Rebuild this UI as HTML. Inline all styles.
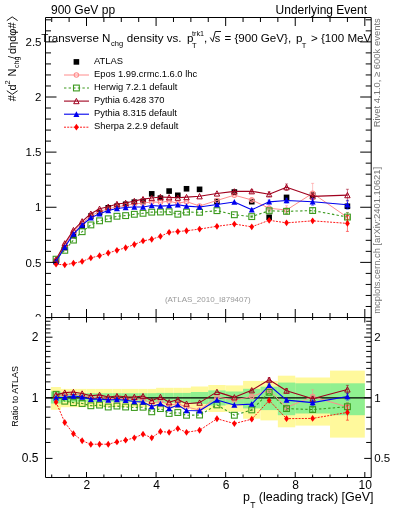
<!DOCTYPE html>
<html><head><meta charset="utf-8"><style>
html,body{margin:0;padding:0;background:#fff;width:393px;height:512px;overflow:hidden}
svg{display:block;will-change:transform;font-family:"Liberation Sans",sans-serif}
</style></head><body>
<svg width="393" height="512" viewBox="0 0 393 512">
<rect width="393" height="512" fill="#fff"/>
<defs><clipPath id="cm"><rect x="45.5" y="17.5" width="325.7" height="300.0"/></clipPath><clipPath id="cr"><rect x="45.5" y="317.5" width="325.7" height="160.0"/></clipPath></defs><g clip-path="url(#cr)"><rect x="50.90" y="387.0" width="10.00" height="22.80" fill="#fff99c"/><rect x="60.41" y="388.9" width="8.70" height="18.30" fill="#fff99c"/><rect x="69.11" y="388.9" width="8.70" height="18.30" fill="#fff99c"/><rect x="77.80" y="388.9" width="8.70" height="18.30" fill="#fff99c"/><rect x="86.50" y="388.9" width="8.70" height="18.30" fill="#fff99c"/><rect x="95.20" y="388.9" width="8.70" height="18.30" fill="#fff99c"/><rect x="103.89" y="388.9" width="8.70" height="18.30" fill="#fff99c"/><rect x="112.59" y="388.9" width="8.70" height="18.30" fill="#fff99c"/><rect x="121.29" y="388.9" width="8.70" height="18.30" fill="#fff99c"/><rect x="129.99" y="388.9" width="8.70" height="18.30" fill="#fff99c"/><rect x="138.69" y="388.9" width="8.70" height="18.30" fill="#fff99c"/><rect x="147.38" y="388.9" width="8.70" height="18.30" fill="#fff99c"/><rect x="156.08" y="387.8" width="8.70" height="20.70" fill="#fff99c"/><rect x="164.78" y="387.8" width="8.70" height="20.70" fill="#fff99c"/><rect x="173.47" y="387.8" width="8.70" height="20.70" fill="#fff99c"/><rect x="182.17" y="387.8" width="8.70" height="20.70" fill="#fff99c"/><rect x="190.87" y="386.5" width="17.39" height="23.50" fill="#fff99c"/><rect x="208.26" y="385" width="17.40" height="27.00" fill="#fff99c"/><rect x="225.66" y="385.4" width="17.40" height="26.40" fill="#fff99c"/><rect x="243.06" y="380.9" width="17.39" height="37.80" fill="#fff99c"/><rect x="260.45" y="380.9" width="17.40" height="39.50" fill="#fff99c"/><rect x="277.85" y="375.7" width="17.39" height="51.60" fill="#fff99c"/><rect x="295.24" y="377.5" width="34.79" height="48.10" fill="#fff99c"/><rect x="330.03" y="370.6" width="34.79" height="67.00" fill="#fff99c"/><rect x="50.90" y="391.5" width="10.00" height="12.00" fill="#90f090"/><rect x="60.41" y="393.2" width="8.70" height="8.60" fill="#90f090"/><rect x="69.11" y="393.2" width="8.70" height="8.60" fill="#90f090"/><rect x="77.80" y="393.2" width="8.70" height="8.60" fill="#90f090"/><rect x="86.50" y="393.2" width="8.70" height="8.60" fill="#90f090"/><rect x="95.20" y="393.2" width="8.70" height="8.60" fill="#90f090"/><rect x="103.89" y="393.2" width="8.70" height="8.60" fill="#90f090"/><rect x="112.59" y="393.2" width="8.70" height="8.60" fill="#90f090"/><rect x="121.29" y="393.2" width="8.70" height="8.60" fill="#90f090"/><rect x="129.99" y="393.2" width="8.70" height="8.60" fill="#90f090"/><rect x="138.69" y="393.2" width="8.70" height="8.60" fill="#90f090"/><rect x="147.38" y="393.2" width="8.70" height="8.60" fill="#90f090"/><rect x="156.08" y="392.9" width="8.70" height="9.90" fill="#90f090"/><rect x="164.78" y="392.9" width="8.70" height="9.90" fill="#90f090"/><rect x="173.47" y="392.9" width="8.70" height="9.90" fill="#90f090"/><rect x="182.17" y="392.9" width="8.70" height="9.90" fill="#90f090"/><rect x="190.87" y="392" width="17.39" height="12.00" fill="#90f090"/><rect x="208.26" y="390.4" width="17.40" height="15.10" fill="#90f090"/><rect x="225.66" y="391.5" width="17.40" height="13.00" fill="#90f090"/><rect x="243.06" y="388.8" width="17.39" height="19.60" fill="#90f090"/><rect x="260.45" y="386.7" width="17.40" height="23.40" fill="#90f090"/><rect x="277.85" y="382.6" width="17.39" height="32.60" fill="#90f090"/><rect x="295.24" y="383.3" width="34.79" height="30.20" fill="#90f090"/><rect x="330.03" y="383.3" width="34.79" height="31.90" fill="#90f090"/><path d="M45.5 397.80H371.2" stroke="#000" stroke-width="1.2"/></g><g clip-path="url(#cm)"><rect x="53.26" y="258.69" width="5.6" height="5.6" fill="#000"/><rect x="61.96" y="244.85" width="5.6" height="5.6" fill="#000"/><rect x="70.65" y="232.88" width="5.6" height="5.6" fill="#000"/><rect x="79.35" y="223.12" width="5.6" height="5.6" fill="#000"/><rect x="88.05" y="213.30" width="5.6" height="5.6" fill="#000"/><rect x="96.75" y="209.59" width="5.6" height="5.6" fill="#000"/><rect x="105.44" y="205.02" width="5.6" height="5.6" fill="#000"/><rect x="114.14" y="203.44" width="5.6" height="5.6" fill="#000"/><rect x="122.84" y="201.50" width="5.6" height="5.6" fill="#000"/><rect x="131.54" y="199.39" width="5.6" height="5.6" fill="#000"/><rect x="140.23" y="198.66" width="5.6" height="5.6" fill="#000"/><rect x="148.93" y="191.06" width="5.6" height="5.6" fill="#000"/><rect x="157.63" y="195.35" width="5.6" height="5.6" fill="#000"/><rect x="166.33" y="188.26" width="5.6" height="5.6" fill="#000"/><rect x="175.02" y="192.49" width="5.6" height="5.6" fill="#000"/><rect x="183.72" y="185.97" width="5.6" height="5.6" fill="#000"/><rect x="196.77" y="186.54" width="5.6" height="5.6" fill="#000"/><rect x="214.16" y="198.80" width="5.6" height="5.6" fill="#000"/><rect x="231.56" y="189.25" width="5.6" height="5.6" fill="#000"/><rect x="248.95" y="198.88" width="5.6" height="5.6" fill="#000"/><rect x="266.35" y="214.48" width="5.6" height="5.6" fill="#000"/><rect x="283.74" y="194.60" width="5.6" height="5.6" fill="#000"/><rect x="309.83" y="192.33" width="5.6" height="5.6" fill="#000"/><rect x="344.62" y="203.47" width="5.6" height="5.6" fill="#000"/></g><g clip-path="url(#cm)"><path d="M56.06 260.37 L64.76 245.20 L73.45 232.00 L82.15 223.17 L90.85 216.10 L99.55 211.34 L108.24 208.91 L116.94 206.79 L125.64 205.43 L134.34 203.92 L143.03 203.20 L151.73 201.90 L160.43 202.33 L169.13 201.17 L177.82 203.24 L186.52 201.64 L199.57 206.00 L216.96 200.44 L234.36 195.18 L251.75 199.94 L269.15 208.26 L286.54 210.01 L312.63 193.29 L347.43 217.39" fill="none" stroke="#ff8c8c" stroke-width="1.0" stroke-linejoin="round"/><path d="M251.75 197.59V202.29M250.25 197.59h3M250.25 202.29h3" stroke="#ff8c8c" stroke-width="0.9" stroke-opacity="0.6" fill="none"/><path d="M269.15 204.98V211.54M267.65 204.98h3M267.65 211.54h3" stroke="#ff8c8c" stroke-width="0.9" stroke-opacity="0.6" fill="none"/><path d="M286.54 205.71V214.31M285.04 205.71h3M285.04 214.31h3" stroke="#ff8c8c" stroke-width="0.9" stroke-opacity="0.6" fill="none"/><path d="M312.63 183.36V203.23M311.13 183.36h3M311.13 203.23h3" stroke="#ff8c8c" stroke-width="0.9" stroke-opacity="0.6" fill="none"/><path d="M347.43 212.39V222.40M345.93 212.39h3M345.93 222.40h3" stroke="#ff8c8c" stroke-width="0.9" stroke-opacity="0.6" fill="none"/><circle cx="56.06" cy="260.37" r="2.2" fill="none" stroke="#ff8c8c" stroke-width="1.1"/><circle cx="64.76" cy="245.20" r="2.2" fill="none" stroke="#ff8c8c" stroke-width="1.1"/><circle cx="73.45" cy="232.00" r="2.2" fill="none" stroke="#ff8c8c" stroke-width="1.1"/><circle cx="82.15" cy="223.17" r="2.2" fill="none" stroke="#ff8c8c" stroke-width="1.1"/><circle cx="90.85" cy="216.10" r="2.2" fill="none" stroke="#ff8c8c" stroke-width="1.1"/><circle cx="99.55" cy="211.34" r="2.2" fill="none" stroke="#ff8c8c" stroke-width="1.1"/><circle cx="108.24" cy="208.91" r="2.2" fill="none" stroke="#ff8c8c" stroke-width="1.1"/><circle cx="116.94" cy="206.79" r="2.2" fill="none" stroke="#ff8c8c" stroke-width="1.1"/><circle cx="125.64" cy="205.43" r="2.2" fill="none" stroke="#ff8c8c" stroke-width="1.1"/><circle cx="134.34" cy="203.92" r="2.2" fill="none" stroke="#ff8c8c" stroke-width="1.1"/><circle cx="143.03" cy="203.20" r="2.2" fill="none" stroke="#ff8c8c" stroke-width="1.1"/><circle cx="151.73" cy="201.90" r="2.2" fill="none" stroke="#ff8c8c" stroke-width="1.1"/><circle cx="160.43" cy="202.33" r="2.2" fill="none" stroke="#ff8c8c" stroke-width="1.1"/><circle cx="169.13" cy="201.17" r="2.2" fill="none" stroke="#ff8c8c" stroke-width="1.1"/><circle cx="177.82" cy="203.24" r="2.2" fill="none" stroke="#ff8c8c" stroke-width="1.1"/><circle cx="186.52" cy="201.64" r="2.2" fill="none" stroke="#ff8c8c" stroke-width="1.1"/><circle cx="199.57" cy="206.00" r="2.2" fill="none" stroke="#ff8c8c" stroke-width="1.1"/><circle cx="216.96" cy="200.44" r="2.2" fill="none" stroke="#ff8c8c" stroke-width="1.1"/><circle cx="234.36" cy="195.18" r="2.2" fill="none" stroke="#ff8c8c" stroke-width="1.1"/><circle cx="251.75" cy="199.94" r="2.2" fill="none" stroke="#ff8c8c" stroke-width="1.1"/><circle cx="269.15" cy="208.26" r="2.2" fill="none" stroke="#ff8c8c" stroke-width="1.1"/><circle cx="286.54" cy="210.01" r="2.2" fill="none" stroke="#ff8c8c" stroke-width="1.1"/><circle cx="312.63" cy="193.29" r="2.2" fill="none" stroke="#ff8c8c" stroke-width="1.1"/><circle cx="347.43" cy="217.39" r="2.2" fill="none" stroke="#ff8c8c" stroke-width="1.1"/><path d="M56.06 259.20 L64.76 250.30 L73.45 240.10 L82.15 231.69 L90.85 224.92 L99.55 220.80 L108.24 218.78 L116.94 216.25 L125.64 215.62 L134.34 214.29 L143.03 213.30 L151.73 212.16 L160.43 212.00 L169.13 211.79 L177.82 214.23 L186.52 212.07 L199.57 212.28 L216.96 210.64 L234.36 214.75 L251.75 216.62 L269.15 210.77 L286.54 211.33 L312.63 210.55 L347.43 217.06" fill="none" stroke="#3c9a1e" stroke-width="1.1" stroke-dasharray="2.4 2.2" stroke-linejoin="round"/><path d="M251.75 215.61V217.63M250.25 215.61h3M250.25 217.63h3" stroke="#3c9a1e" stroke-width="0.9" stroke-opacity="0.6" fill="none"/><path d="M269.15 209.17V212.37M267.65 209.17h3M267.65 212.37h3" stroke="#3c9a1e" stroke-width="0.9" stroke-opacity="0.6" fill="none"/><path d="M286.54 209.21V213.46M285.04 209.21h3M285.04 213.46h3" stroke="#3c9a1e" stroke-width="0.9" stroke-opacity="0.6" fill="none"/><path d="M312.63 207.87V213.22M311.13 207.87h3M311.13 213.22h3" stroke="#3c9a1e" stroke-width="0.9" stroke-opacity="0.6" fill="none"/><path d="M347.43 212.54V221.58M345.93 212.54h3M345.93 221.58h3" stroke="#3c9a1e" stroke-width="0.9" stroke-opacity="0.6" fill="none"/><rect x="53.16" y="256.30" width="5.8" height="5.8" fill="none" stroke="#3c9a1e" stroke-width="1.1"/><rect x="61.86" y="247.40" width="5.8" height="5.8" fill="none" stroke="#3c9a1e" stroke-width="1.1"/><rect x="70.55" y="237.20" width="5.8" height="5.8" fill="none" stroke="#3c9a1e" stroke-width="1.1"/><rect x="79.25" y="228.79" width="5.8" height="5.8" fill="none" stroke="#3c9a1e" stroke-width="1.1"/><rect x="87.95" y="222.02" width="5.8" height="5.8" fill="none" stroke="#3c9a1e" stroke-width="1.1"/><rect x="96.65" y="217.90" width="5.8" height="5.8" fill="none" stroke="#3c9a1e" stroke-width="1.1"/><rect x="105.34" y="215.88" width="5.8" height="5.8" fill="none" stroke="#3c9a1e" stroke-width="1.1"/><rect x="114.04" y="213.35" width="5.8" height="5.8" fill="none" stroke="#3c9a1e" stroke-width="1.1"/><rect x="122.74" y="212.72" width="5.8" height="5.8" fill="none" stroke="#3c9a1e" stroke-width="1.1"/><rect x="131.44" y="211.39" width="5.8" height="5.8" fill="none" stroke="#3c9a1e" stroke-width="1.1"/><rect x="140.13" y="210.40" width="5.8" height="5.8" fill="none" stroke="#3c9a1e" stroke-width="1.1"/><rect x="148.83" y="209.26" width="5.8" height="5.8" fill="none" stroke="#3c9a1e" stroke-width="1.1"/><rect x="157.53" y="209.10" width="5.8" height="5.8" fill="none" stroke="#3c9a1e" stroke-width="1.1"/><rect x="166.23" y="208.89" width="5.8" height="5.8" fill="none" stroke="#3c9a1e" stroke-width="1.1"/><rect x="174.92" y="211.33" width="5.8" height="5.8" fill="none" stroke="#3c9a1e" stroke-width="1.1"/><rect x="183.62" y="209.17" width="5.8" height="5.8" fill="none" stroke="#3c9a1e" stroke-width="1.1"/><rect x="196.67" y="209.38" width="5.8" height="5.8" fill="none" stroke="#3c9a1e" stroke-width="1.1"/><rect x="214.06" y="207.74" width="5.8" height="5.8" fill="none" stroke="#3c9a1e" stroke-width="1.1"/><rect x="231.46" y="211.85" width="5.8" height="5.8" fill="none" stroke="#3c9a1e" stroke-width="1.1"/><rect x="248.85" y="213.72" width="5.8" height="5.8" fill="none" stroke="#3c9a1e" stroke-width="1.1"/><rect x="266.25" y="207.87" width="5.8" height="5.8" fill="none" stroke="#3c9a1e" stroke-width="1.1"/><rect x="283.64" y="208.43" width="5.8" height="5.8" fill="none" stroke="#3c9a1e" stroke-width="1.1"/><rect x="309.74" y="207.65" width="5.8" height="5.8" fill="none" stroke="#3c9a1e" stroke-width="1.1"/><rect x="344.53" y="214.16" width="5.8" height="5.8" fill="none" stroke="#3c9a1e" stroke-width="1.1"/><path d="M56.06 259.59 L64.76 243.39 L73.45 230.11 L82.15 221.34 L90.85 213.77 L99.55 208.81 L108.24 206.72 L116.94 204.01 L125.64 202.94 L134.34 201.03 L143.03 199.14 L151.73 198.07 L160.43 196.96 L169.13 197.38 L177.82 197.74 L186.52 197.14 L199.57 196.26 L216.96 193.48 L234.36 191.42 L251.75 191.25 L269.15 194.23 L286.54 187.19 L312.63 196.35 L347.43 195.15" fill="none" stroke="#a0001e" stroke-width="1.1" stroke-linejoin="round"/><path d="M251.75 189.74V192.77M250.25 189.74h3M250.25 192.77h3" stroke="#a0001e" stroke-width="0.9" stroke-opacity="0.6" fill="none"/><path d="M269.15 191.77V196.70M267.65 191.77h3M267.65 196.70h3" stroke="#a0001e" stroke-width="0.9" stroke-opacity="0.6" fill="none"/><path d="M286.54 183.94V190.45M285.04 183.94h3M285.04 190.45h3" stroke="#a0001e" stroke-width="0.9" stroke-opacity="0.6" fill="none"/><path d="M312.63 192.96V199.75M311.13 192.96h3M311.13 199.75h3" stroke="#a0001e" stroke-width="0.9" stroke-opacity="0.6" fill="none"/><path d="M347.43 189.28V201.02M345.93 189.28h3M345.93 201.02h3" stroke="#a0001e" stroke-width="0.9" stroke-opacity="0.6" fill="none"/><path d="M56.06 256.89L58.76 262.19H53.36Z" fill="none" stroke="#a0001e" stroke-width="1.0" stroke-linejoin="miter"/><path d="M64.76 240.69L67.46 245.99H62.06Z" fill="none" stroke="#a0001e" stroke-width="1.0" stroke-linejoin="miter"/><path d="M73.45 227.41L76.15 232.71H70.75Z" fill="none" stroke="#a0001e" stroke-width="1.0" stroke-linejoin="miter"/><path d="M82.15 218.64L84.85 223.94H79.45Z" fill="none" stroke="#a0001e" stroke-width="1.0" stroke-linejoin="miter"/><path d="M90.85 211.07L93.55 216.37H88.15Z" fill="none" stroke="#a0001e" stroke-width="1.0" stroke-linejoin="miter"/><path d="M99.55 206.11L102.25 211.41H96.85Z" fill="none" stroke="#a0001e" stroke-width="1.0" stroke-linejoin="miter"/><path d="M108.24 204.02L110.94 209.32H105.54Z" fill="none" stroke="#a0001e" stroke-width="1.0" stroke-linejoin="miter"/><path d="M116.94 201.31L119.64 206.61H114.24Z" fill="none" stroke="#a0001e" stroke-width="1.0" stroke-linejoin="miter"/><path d="M125.64 200.24L128.34 205.54H122.94Z" fill="none" stroke="#a0001e" stroke-width="1.0" stroke-linejoin="miter"/><path d="M134.34 198.33L137.04 203.63H131.64Z" fill="none" stroke="#a0001e" stroke-width="1.0" stroke-linejoin="miter"/><path d="M143.03 196.44L145.73 201.74H140.33Z" fill="none" stroke="#a0001e" stroke-width="1.0" stroke-linejoin="miter"/><path d="M151.73 195.37L154.43 200.67H149.03Z" fill="none" stroke="#a0001e" stroke-width="1.0" stroke-linejoin="miter"/><path d="M160.43 194.26L163.13 199.56H157.73Z" fill="none" stroke="#a0001e" stroke-width="1.0" stroke-linejoin="miter"/><path d="M169.13 194.68L171.83 199.98H166.43Z" fill="none" stroke="#a0001e" stroke-width="1.0" stroke-linejoin="miter"/><path d="M177.82 195.04L180.52 200.34H175.12Z" fill="none" stroke="#a0001e" stroke-width="1.0" stroke-linejoin="miter"/><path d="M186.52 194.44L189.22 199.74H183.82Z" fill="none" stroke="#a0001e" stroke-width="1.0" stroke-linejoin="miter"/><path d="M199.57 193.56L202.27 198.86H196.87Z" fill="none" stroke="#a0001e" stroke-width="1.0" stroke-linejoin="miter"/><path d="M216.96 190.78L219.66 196.08H214.26Z" fill="none" stroke="#a0001e" stroke-width="1.0" stroke-linejoin="miter"/><path d="M234.36 188.72L237.06 194.02H231.66Z" fill="none" stroke="#a0001e" stroke-width="1.0" stroke-linejoin="miter"/><path d="M251.75 188.55L254.45 193.85H249.05Z" fill="none" stroke="#a0001e" stroke-width="1.0" stroke-linejoin="miter"/><path d="M269.15 191.53L271.85 196.83H266.45Z" fill="none" stroke="#a0001e" stroke-width="1.0" stroke-linejoin="miter"/><path d="M286.54 184.49L289.24 189.79H283.84Z" fill="none" stroke="#a0001e" stroke-width="1.0" stroke-linejoin="miter"/><path d="M312.63 193.65L315.33 198.95H309.94Z" fill="none" stroke="#a0001e" stroke-width="1.0" stroke-linejoin="miter"/><path d="M347.43 192.45L350.12 197.75H344.73Z" fill="none" stroke="#a0001e" stroke-width="1.0" stroke-linejoin="miter"/><path d="M56.06 261.49 L64.76 247.16 L73.45 234.04 L82.15 225.00 L90.85 217.72 L99.55 213.75 L108.24 210.56 L116.94 208.46 L125.64 207.47 L134.34 207.03 L143.03 207.03 L151.73 205.49 L160.43 206.15 L169.13 205.60 L177.82 204.82 L186.52 206.15 L199.57 207.03 L216.96 204.49 L234.36 201.96 L251.75 209.79 L269.15 201.85 L286.54 200.52 L312.63 201.74 L347.43 204.71" fill="none" stroke="#0000ee" stroke-width="1.1" stroke-linejoin="round"/><path d="M251.75 208.71V210.86M250.25 208.71h3M250.25 210.86h3" stroke="#0000ee" stroke-width="0.9" stroke-opacity="0.6" fill="none"/><path d="M269.15 200.11V203.58M267.65 200.11h3M267.65 203.58h3" stroke="#0000ee" stroke-width="0.9" stroke-opacity="0.6" fill="none"/><path d="M286.54 198.19V202.86M285.04 198.19h3M285.04 202.86h3" stroke="#0000ee" stroke-width="0.9" stroke-opacity="0.6" fill="none"/><path d="M312.63 198.26V205.21M311.13 198.26h3M311.13 205.21h3" stroke="#0000ee" stroke-width="0.9" stroke-opacity="0.6" fill="none"/><path d="M347.43 200.32V209.11M345.93 200.32h3M345.93 209.11h3" stroke="#0000ee" stroke-width="0.9" stroke-opacity="0.6" fill="none"/><path d="M56.06 258.49L59.06 264.19H53.06Z" fill="#0000ee"/><path d="M64.76 244.16L67.76 249.86H61.76Z" fill="#0000ee"/><path d="M73.45 231.04L76.45 236.74H70.45Z" fill="#0000ee"/><path d="M82.15 222.00L85.15 227.70H79.15Z" fill="#0000ee"/><path d="M90.85 214.72L93.85 220.42H87.85Z" fill="#0000ee"/><path d="M99.55 210.75L102.55 216.45H96.55Z" fill="#0000ee"/><path d="M108.24 207.56L111.24 213.26H105.24Z" fill="#0000ee"/><path d="M116.94 205.46L119.94 211.16H113.94Z" fill="#0000ee"/><path d="M125.64 204.47L128.64 210.17H122.64Z" fill="#0000ee"/><path d="M134.34 204.03L137.34 209.73H131.34Z" fill="#0000ee"/><path d="M143.03 204.03L146.03 209.73H140.03Z" fill="#0000ee"/><path d="M151.73 202.49L154.73 208.19H148.73Z" fill="#0000ee"/><path d="M160.43 203.15L163.43 208.85H157.43Z" fill="#0000ee"/><path d="M169.13 202.60L172.13 208.30H166.13Z" fill="#0000ee"/><path d="M177.82 201.82L180.82 207.52H174.82Z" fill="#0000ee"/><path d="M186.52 203.15L189.52 208.85H183.52Z" fill="#0000ee"/><path d="M199.57 204.03L202.57 209.73H196.57Z" fill="#0000ee"/><path d="M216.96 201.49L219.96 207.19H213.96Z" fill="#0000ee"/><path d="M234.36 198.96L237.36 204.66H231.36Z" fill="#0000ee"/><path d="M251.75 206.79L254.75 212.49H248.75Z" fill="#0000ee"/><path d="M269.15 198.85L272.15 204.55H266.15Z" fill="#0000ee"/><path d="M286.54 197.52L289.54 203.22H283.54Z" fill="#0000ee"/><path d="M312.63 198.74L315.63 204.44H309.63Z" fill="#0000ee"/><path d="M347.43 201.71L350.43 207.41H344.43Z" fill="#0000ee"/><path d="M56.06 264.18 L64.76 264.83 L73.45 263.25 L82.15 261.45 L90.85 257.88 L99.55 255.69 L108.24 253.01 L116.94 250.30 L125.64 247.77 L134.34 244.51 L143.03 240.91 L151.73 239.24 L160.43 236.34 L169.13 232.28 L177.82 231.59 L186.52 230.74 L199.57 229.07 L216.96 226.28 L234.36 224.04 L251.75 226.81 L269.15 220.29 L286.54 222.86 L312.63 220.83 L347.43 223.40" fill="none" stroke="#ff0000" stroke-width="0.9" stroke-dasharray="2 1.2" stroke-linejoin="round"/><path d="M347.43 215.40V231.40M345.93 215.40h3M345.93 231.40h3" stroke="#ff0000" stroke-width="0.9" stroke-opacity="0.6" fill="none"/><path d="M56.06 260.78L58.46 264.18L56.06 267.58L53.66 264.18Z" fill="#ff0000"/><path d="M64.76 261.43L67.16 264.83L64.76 268.23L62.36 264.83Z" fill="#ff0000"/><path d="M73.45 259.85L75.85 263.25L73.45 266.65L71.05 263.25Z" fill="#ff0000"/><path d="M82.15 258.05L84.55 261.45L82.15 264.85L79.75 261.45Z" fill="#ff0000"/><path d="M90.85 254.48L93.25 257.88L90.85 261.28L88.45 257.88Z" fill="#ff0000"/><path d="M99.55 252.29L101.95 255.69L99.55 259.09L97.15 255.69Z" fill="#ff0000"/><path d="M108.24 249.61L110.64 253.01L108.24 256.41L105.84 253.01Z" fill="#ff0000"/><path d="M116.94 246.90L119.34 250.30L116.94 253.70L114.54 250.30Z" fill="#ff0000"/><path d="M125.64 244.37L128.04 247.77L125.64 251.17L123.24 247.77Z" fill="#ff0000"/><path d="M134.34 241.11L136.74 244.51L134.34 247.91L131.94 244.51Z" fill="#ff0000"/><path d="M143.03 237.51L145.43 240.91L143.03 244.31L140.63 240.91Z" fill="#ff0000"/><path d="M151.73 235.84L154.13 239.24L151.73 242.64L149.33 239.24Z" fill="#ff0000"/><path d="M160.43 232.94L162.83 236.34L160.43 239.74L158.03 236.34Z" fill="#ff0000"/><path d="M169.13 228.88L171.53 232.28L169.13 235.68L166.73 232.28Z" fill="#ff0000"/><path d="M177.82 228.19L180.22 231.59L177.82 234.99L175.42 231.59Z" fill="#ff0000"/><path d="M186.52 227.34L188.92 230.74L186.52 234.14L184.12 230.74Z" fill="#ff0000"/><path d="M199.57 225.67L201.97 229.07L199.57 232.47L197.17 229.07Z" fill="#ff0000"/><path d="M216.96 222.88L219.36 226.28L216.96 229.68L214.56 226.28Z" fill="#ff0000"/><path d="M234.36 220.64L236.76 224.04L234.36 227.44L231.96 224.04Z" fill="#ff0000"/><path d="M251.75 223.41L254.15 226.81L251.75 230.21L249.35 226.81Z" fill="#ff0000"/><path d="M269.15 216.89L271.55 220.29L269.15 223.69L266.75 220.29Z" fill="#ff0000"/><path d="M286.54 219.46L288.94 222.86L286.54 226.26L284.14 222.86Z" fill="#ff0000"/><path d="M312.63 217.43L315.03 220.83L312.63 224.23L310.24 220.83Z" fill="#ff0000"/><path d="M347.43 220.00L349.82 223.40L347.43 226.80L345.03 223.40Z" fill="#ff0000"/></g><g clip-path="url(#cr)"><path d="M56.06 396.07 L64.76 394.79 L73.45 393.95 L82.15 395.22 L90.85 397.80 L99.55 396.93 L108.24 398.68 L116.94 398.24 L125.64 398.68 L134.34 399.12 L143.03 399.12 L151.73 403.68 L160.43 400.91 L169.13 405.09 L177.82 403.68 L186.52 407.01 L199.57 409.98 L216.96 396.93 L234.36 400.01 L251.75 396.50 L269.15 390.27 L286.54 407.50 L312.63 396.50 L347.43 407.01" fill="none" stroke="#ff8c8c" stroke-width="1.0" stroke-linejoin="round"/><path d="M251.75 394.77V398.26M250.25 394.77h3M250.25 398.26h3" stroke="#ff8c8c" stroke-width="0.9" stroke-opacity="0.6" fill="none"/><path d="M269.15 387.68V392.93M267.65 387.68h3M267.65 392.93h3" stroke="#ff8c8c" stroke-width="0.9" stroke-opacity="0.6" fill="none"/><path d="M286.54 404.07V411.07M285.04 404.07h3M285.04 411.07h3" stroke="#ff8c8c" stroke-width="0.9" stroke-opacity="0.6" fill="none"/><path d="M312.63 389.77V403.79M311.13 389.77h3M311.13 403.79h3" stroke="#ff8c8c" stroke-width="0.9" stroke-opacity="0.6" fill="none"/><path d="M347.43 402.75V411.50M345.93 402.75h3M345.93 411.50h3" stroke="#ff8c8c" stroke-width="0.9" stroke-opacity="0.6" fill="none"/><circle cx="56.06" cy="396.07" r="2.2" fill="none" stroke="#ff8c8c" stroke-width="1.1"/><circle cx="64.76" cy="394.79" r="2.2" fill="none" stroke="#ff8c8c" stroke-width="1.1"/><circle cx="73.45" cy="393.95" r="2.2" fill="none" stroke="#ff8c8c" stroke-width="1.1"/><circle cx="82.15" cy="395.22" r="2.2" fill="none" stroke="#ff8c8c" stroke-width="1.1"/><circle cx="90.85" cy="397.80" r="2.2" fill="none" stroke="#ff8c8c" stroke-width="1.1"/><circle cx="99.55" cy="396.93" r="2.2" fill="none" stroke="#ff8c8c" stroke-width="1.1"/><circle cx="108.24" cy="398.68" r="2.2" fill="none" stroke="#ff8c8c" stroke-width="1.1"/><circle cx="116.94" cy="398.24" r="2.2" fill="none" stroke="#ff8c8c" stroke-width="1.1"/><circle cx="125.64" cy="398.68" r="2.2" fill="none" stroke="#ff8c8c" stroke-width="1.1"/><circle cx="134.34" cy="399.12" r="2.2" fill="none" stroke="#ff8c8c" stroke-width="1.1"/><circle cx="143.03" cy="399.12" r="2.2" fill="none" stroke="#ff8c8c" stroke-width="1.1"/><circle cx="151.73" cy="403.68" r="2.2" fill="none" stroke="#ff8c8c" stroke-width="1.1"/><circle cx="160.43" cy="400.91" r="2.2" fill="none" stroke="#ff8c8c" stroke-width="1.1"/><circle cx="169.13" cy="405.09" r="2.2" fill="none" stroke="#ff8c8c" stroke-width="1.1"/><circle cx="177.82" cy="403.68" r="2.2" fill="none" stroke="#ff8c8c" stroke-width="1.1"/><circle cx="186.52" cy="407.01" r="2.2" fill="none" stroke="#ff8c8c" stroke-width="1.1"/><circle cx="199.57" cy="409.98" r="2.2" fill="none" stroke="#ff8c8c" stroke-width="1.1"/><circle cx="216.96" cy="396.93" r="2.2" fill="none" stroke="#ff8c8c" stroke-width="1.1"/><circle cx="234.36" cy="400.01" r="2.2" fill="none" stroke="#ff8c8c" stroke-width="1.1"/><circle cx="251.75" cy="396.50" r="2.2" fill="none" stroke="#ff8c8c" stroke-width="1.1"/><circle cx="269.15" cy="390.27" r="2.2" fill="none" stroke="#ff8c8c" stroke-width="1.1"/><circle cx="286.54" cy="407.50" r="2.2" fill="none" stroke="#ff8c8c" stroke-width="1.1"/><circle cx="312.63" cy="396.50" r="2.2" fill="none" stroke="#ff8c8c" stroke-width="1.1"/><circle cx="347.43" cy="407.01" r="2.2" fill="none" stroke="#ff8c8c" stroke-width="1.1"/><path d="M56.06 394.29 L64.76 401.19 L73.45 402.65 L82.15 403.49 L90.85 405.76 L99.55 405.09 L108.24 407.01 L116.94 406.05 L125.64 407.01 L134.34 407.50 L143.03 407.21 L151.73 411.80 L160.43 408.58 L169.13 413.46 L177.82 412.52 L186.52 415.26 L199.57 415.04 L216.96 404.90 L234.36 415.26 L251.75 409.88 L269.15 392.29 L286.54 408.58 L312.63 409.57 L347.43 406.72" fill="none" stroke="#3c9a1e" stroke-width="1.1" stroke-dasharray="2.4 2.2" stroke-linejoin="round"/><path d="M251.75 409.01V410.75M250.25 409.01h3M250.25 410.75h3" stroke="#3c9a1e" stroke-width="0.9" stroke-opacity="0.6" fill="none"/><path d="M269.15 390.99V393.62M267.65 390.99h3M267.65 393.62h3" stroke="#3c9a1e" stroke-width="0.9" stroke-opacity="0.6" fill="none"/><path d="M286.54 406.85V410.35M285.04 406.85h3M285.04 410.35h3" stroke="#3c9a1e" stroke-width="0.9" stroke-opacity="0.6" fill="none"/><path d="M312.63 407.42V411.79M311.13 407.42h3M311.13 411.79h3" stroke="#3c9a1e" stroke-width="0.9" stroke-opacity="0.6" fill="none"/><path d="M347.43 402.87V410.75M345.93 402.87h3M345.93 410.75h3" stroke="#3c9a1e" stroke-width="0.9" stroke-opacity="0.6" fill="none"/><rect x="53.16" y="391.39" width="5.8" height="5.8" fill="none" stroke="#3c9a1e" stroke-width="1.1"/><rect x="61.86" y="398.29" width="5.8" height="5.8" fill="none" stroke="#3c9a1e" stroke-width="1.1"/><rect x="70.55" y="399.75" width="5.8" height="5.8" fill="none" stroke="#3c9a1e" stroke-width="1.1"/><rect x="79.25" y="400.59" width="5.8" height="5.8" fill="none" stroke="#3c9a1e" stroke-width="1.1"/><rect x="87.95" y="402.86" width="5.8" height="5.8" fill="none" stroke="#3c9a1e" stroke-width="1.1"/><rect x="96.65" y="402.19" width="5.8" height="5.8" fill="none" stroke="#3c9a1e" stroke-width="1.1"/><rect x="105.34" y="404.11" width="5.8" height="5.8" fill="none" stroke="#3c9a1e" stroke-width="1.1"/><rect x="114.04" y="403.15" width="5.8" height="5.8" fill="none" stroke="#3c9a1e" stroke-width="1.1"/><rect x="122.74" y="404.11" width="5.8" height="5.8" fill="none" stroke="#3c9a1e" stroke-width="1.1"/><rect x="131.44" y="404.60" width="5.8" height="5.8" fill="none" stroke="#3c9a1e" stroke-width="1.1"/><rect x="140.13" y="404.31" width="5.8" height="5.8" fill="none" stroke="#3c9a1e" stroke-width="1.1"/><rect x="148.83" y="408.90" width="5.8" height="5.8" fill="none" stroke="#3c9a1e" stroke-width="1.1"/><rect x="157.53" y="405.68" width="5.8" height="5.8" fill="none" stroke="#3c9a1e" stroke-width="1.1"/><rect x="166.23" y="410.56" width="5.8" height="5.8" fill="none" stroke="#3c9a1e" stroke-width="1.1"/><rect x="174.92" y="409.62" width="5.8" height="5.8" fill="none" stroke="#3c9a1e" stroke-width="1.1"/><rect x="183.62" y="412.36" width="5.8" height="5.8" fill="none" stroke="#3c9a1e" stroke-width="1.1"/><rect x="196.67" y="412.14" width="5.8" height="5.8" fill="none" stroke="#3c9a1e" stroke-width="1.1"/><rect x="214.06" y="402.00" width="5.8" height="5.8" fill="none" stroke="#3c9a1e" stroke-width="1.1"/><rect x="231.46" y="412.36" width="5.8" height="5.8" fill="none" stroke="#3c9a1e" stroke-width="1.1"/><rect x="248.85" y="406.98" width="5.8" height="5.8" fill="none" stroke="#3c9a1e" stroke-width="1.1"/><rect x="266.25" y="389.39" width="5.8" height="5.8" fill="none" stroke="#3c9a1e" stroke-width="1.1"/><rect x="283.64" y="405.68" width="5.8" height="5.8" fill="none" stroke="#3c9a1e" stroke-width="1.1"/><rect x="309.74" y="406.67" width="5.8" height="5.8" fill="none" stroke="#3c9a1e" stroke-width="1.1"/><rect x="344.53" y="403.82" width="5.8" height="5.8" fill="none" stroke="#3c9a1e" stroke-width="1.1"/><path d="M56.06 394.88 L64.76 392.62 L73.45 392.05 L82.15 393.53 L90.85 395.81 L99.55 394.88 L108.24 396.93 L116.94 396.07 L125.64 396.76 L134.34 396.93 L143.03 396.07 L151.73 400.82 L160.43 396.93 L169.13 402.28 L177.82 399.57 L186.52 403.68 L199.57 402.65 L216.96 391.88 L234.36 397.36 L251.75 390.27 L269.15 379.70 L286.54 390.67 L312.63 398.68 L347.43 389.47" fill="none" stroke="#a0001e" stroke-width="1.1" stroke-linejoin="round"/><path d="M251.75 389.22V391.32M250.25 389.22h3M250.25 391.32h3" stroke="#a0001e" stroke-width="0.9" stroke-opacity="0.6" fill="none"/><path d="M269.15 377.97V381.47M267.65 377.97h3M267.65 381.47h3" stroke="#a0001e" stroke-width="0.9" stroke-opacity="0.6" fill="none"/><path d="M286.54 388.51V392.88M285.04 388.51h3M285.04 392.88h3" stroke="#a0001e" stroke-width="0.9" stroke-opacity="0.6" fill="none"/><path d="M312.63 396.26V401.16M311.13 396.26h3M311.13 401.16h3" stroke="#a0001e" stroke-width="0.9" stroke-opacity="0.6" fill="none"/><path d="M347.43 385.37V393.77M345.93 385.37h3M345.93 393.77h3" stroke="#a0001e" stroke-width="0.9" stroke-opacity="0.6" fill="none"/><path d="M56.06 392.18L58.76 397.48H53.36Z" fill="none" stroke="#a0001e" stroke-width="1.0" stroke-linejoin="miter"/><path d="M64.76 389.92L67.46 395.22H62.06Z" fill="none" stroke="#a0001e" stroke-width="1.0" stroke-linejoin="miter"/><path d="M73.45 389.35L76.15 394.65H70.75Z" fill="none" stroke="#a0001e" stroke-width="1.0" stroke-linejoin="miter"/><path d="M82.15 390.83L84.85 396.13H79.45Z" fill="none" stroke="#a0001e" stroke-width="1.0" stroke-linejoin="miter"/><path d="M90.85 393.11L93.55 398.41H88.15Z" fill="none" stroke="#a0001e" stroke-width="1.0" stroke-linejoin="miter"/><path d="M99.55 392.18L102.25 397.48H96.85Z" fill="none" stroke="#a0001e" stroke-width="1.0" stroke-linejoin="miter"/><path d="M108.24 394.23L110.94 399.53H105.54Z" fill="none" stroke="#a0001e" stroke-width="1.0" stroke-linejoin="miter"/><path d="M116.94 393.37L119.64 398.67H114.24Z" fill="none" stroke="#a0001e" stroke-width="1.0" stroke-linejoin="miter"/><path d="M125.64 394.06L128.34 399.36H122.94Z" fill="none" stroke="#a0001e" stroke-width="1.0" stroke-linejoin="miter"/><path d="M134.34 394.23L137.04 399.53H131.64Z" fill="none" stroke="#a0001e" stroke-width="1.0" stroke-linejoin="miter"/><path d="M143.03 393.37L145.73 398.67H140.33Z" fill="none" stroke="#a0001e" stroke-width="1.0" stroke-linejoin="miter"/><path d="M151.73 398.12L154.43 403.42H149.03Z" fill="none" stroke="#a0001e" stroke-width="1.0" stroke-linejoin="miter"/><path d="M160.43 394.23L163.13 399.53H157.73Z" fill="none" stroke="#a0001e" stroke-width="1.0" stroke-linejoin="miter"/><path d="M169.13 399.58L171.83 404.88H166.43Z" fill="none" stroke="#a0001e" stroke-width="1.0" stroke-linejoin="miter"/><path d="M177.82 396.87L180.52 402.17H175.12Z" fill="none" stroke="#a0001e" stroke-width="1.0" stroke-linejoin="miter"/><path d="M186.52 400.98L189.22 406.28H183.82Z" fill="none" stroke="#a0001e" stroke-width="1.0" stroke-linejoin="miter"/><path d="M199.57 399.95L202.27 405.25H196.87Z" fill="none" stroke="#a0001e" stroke-width="1.0" stroke-linejoin="miter"/><path d="M216.96 389.18L219.66 394.48H214.26Z" fill="none" stroke="#a0001e" stroke-width="1.0" stroke-linejoin="miter"/><path d="M234.36 394.66L237.06 399.96H231.66Z" fill="none" stroke="#a0001e" stroke-width="1.0" stroke-linejoin="miter"/><path d="M251.75 387.57L254.45 392.87H249.05Z" fill="none" stroke="#a0001e" stroke-width="1.0" stroke-linejoin="miter"/><path d="M269.15 377.00L271.85 382.30H266.45Z" fill="none" stroke="#a0001e" stroke-width="1.0" stroke-linejoin="miter"/><path d="M286.54 387.97L289.24 393.27H283.84Z" fill="none" stroke="#a0001e" stroke-width="1.0" stroke-linejoin="miter"/><path d="M312.63 395.98L315.33 401.28H309.94Z" fill="none" stroke="#a0001e" stroke-width="1.0" stroke-linejoin="miter"/><path d="M347.43 386.77L350.12 392.07H344.73Z" fill="none" stroke="#a0001e" stroke-width="1.0" stroke-linejoin="miter"/><path d="M56.06 397.80 L64.76 397.19 L73.45 396.07 L82.15 396.93 L90.85 399.21 L99.55 398.94 L108.24 400.01 L116.94 399.57 L125.64 400.28 L134.34 401.55 L143.03 402.10 L151.73 406.43 L160.43 403.86 L169.13 408.48 L177.82 404.90 L186.52 410.48 L199.57 410.78 L216.96 400.01 L234.36 405.00 L251.75 404.14 L269.15 385.28 L286.54 400.10 L312.63 402.65 L347.43 396.58" fill="none" stroke="#0000ee" stroke-width="1.1" stroke-linejoin="round"/><path d="M251.75 403.27V405.02M250.25 403.27h3M250.25 405.02h3" stroke="#0000ee" stroke-width="0.9" stroke-opacity="0.6" fill="none"/><path d="M269.15 383.98V386.60M267.65 383.98h3M267.65 386.60h3" stroke="#0000ee" stroke-width="0.9" stroke-opacity="0.6" fill="none"/><path d="M286.54 398.37V401.87M285.04 398.37h3M285.04 401.87h3" stroke="#0000ee" stroke-width="0.9" stroke-opacity="0.6" fill="none"/><path d="M312.63 400.07V405.32M311.13 400.07h3M311.13 405.32h3" stroke="#0000ee" stroke-width="0.9" stroke-opacity="0.6" fill="none"/><path d="M347.43 393.24V400.06M345.93 393.24h3M345.93 400.06h3" stroke="#0000ee" stroke-width="0.9" stroke-opacity="0.6" fill="none"/><path d="M56.06 394.80L59.06 400.50H53.06Z" fill="#0000ee"/><path d="M64.76 394.19L67.76 399.89H61.76Z" fill="#0000ee"/><path d="M73.45 393.07L76.45 398.77H70.45Z" fill="#0000ee"/><path d="M82.15 393.93L85.15 399.63H79.15Z" fill="#0000ee"/><path d="M90.85 396.21L93.85 401.91H87.85Z" fill="#0000ee"/><path d="M99.55 395.94L102.55 401.64H96.55Z" fill="#0000ee"/><path d="M108.24 397.01L111.24 402.71H105.24Z" fill="#0000ee"/><path d="M116.94 396.57L119.94 402.27H113.94Z" fill="#0000ee"/><path d="M125.64 397.28L128.64 402.98H122.64Z" fill="#0000ee"/><path d="M134.34 398.55L137.34 404.25H131.34Z" fill="#0000ee"/><path d="M143.03 399.10L146.03 404.80H140.03Z" fill="#0000ee"/><path d="M151.73 403.43L154.73 409.13H148.73Z" fill="#0000ee"/><path d="M160.43 400.86L163.43 406.56H157.43Z" fill="#0000ee"/><path d="M169.13 405.48L172.13 411.18H166.13Z" fill="#0000ee"/><path d="M177.82 401.90L180.82 407.60H174.82Z" fill="#0000ee"/><path d="M186.52 407.48L189.52 413.18H183.52Z" fill="#0000ee"/><path d="M199.57 407.78L202.57 413.48H196.57Z" fill="#0000ee"/><path d="M216.96 397.01L219.96 402.71H213.96Z" fill="#0000ee"/><path d="M234.36 402.00L237.36 407.70H231.36Z" fill="#0000ee"/><path d="M251.75 401.14L254.75 406.84H248.75Z" fill="#0000ee"/><path d="M269.15 382.28L272.15 387.98H266.15Z" fill="#0000ee"/><path d="M286.54 397.10L289.54 402.80H283.54Z" fill="#0000ee"/><path d="M312.63 399.65L315.63 405.35H309.63Z" fill="#0000ee"/><path d="M347.43 393.58L350.43 399.28H344.43Z" fill="#0000ee"/><path d="M56.06 402.10 L64.76 422.49 L73.45 433.73 L82.15 440.73 L90.85 444.23 L99.55 444.23 L108.24 444.23 L116.94 441.88 L125.64 440.16 L134.34 437.78 L143.03 434.13 L151.73 437.78 L160.43 431.52 L169.13 432.29 L177.82 428.61 L186.52 432.29 L199.57 430.24 L216.96 418.74 L234.36 423.54 L251.75 419.19 L269.15 400.46 L286.54 418.63 L312.63 418.41 L347.43 412.42" fill="none" stroke="#ff0000" stroke-width="0.9" stroke-dasharray="2 1.2" stroke-linejoin="round"/><path d="M347.43 405.29V420.19M345.93 405.29h3M345.93 420.19h3" stroke="#ff0000" stroke-width="0.9" stroke-opacity="0.6" fill="none"/><path d="M56.06 398.70L58.46 402.10L56.06 405.50L53.66 402.10Z" fill="#ff0000"/><path d="M64.76 419.09L67.16 422.49L64.76 425.89L62.36 422.49Z" fill="#ff0000"/><path d="M73.45 430.33L75.85 433.73L73.45 437.13L71.05 433.73Z" fill="#ff0000"/><path d="M82.15 437.33L84.55 440.73L82.15 444.13L79.75 440.73Z" fill="#ff0000"/><path d="M90.85 440.83L93.25 444.23L90.85 447.63L88.45 444.23Z" fill="#ff0000"/><path d="M99.55 440.83L101.95 444.23L99.55 447.63L97.15 444.23Z" fill="#ff0000"/><path d="M108.24 440.83L110.64 444.23L108.24 447.63L105.84 444.23Z" fill="#ff0000"/><path d="M116.94 438.48L119.34 441.88L116.94 445.28L114.54 441.88Z" fill="#ff0000"/><path d="M125.64 436.76L128.04 440.16L125.64 443.56L123.24 440.16Z" fill="#ff0000"/><path d="M134.34 434.38L136.74 437.78L134.34 441.18L131.94 437.78Z" fill="#ff0000"/><path d="M143.03 430.73L145.43 434.13L143.03 437.53L140.63 434.13Z" fill="#ff0000"/><path d="M151.73 434.38L154.13 437.78L151.73 441.18L149.33 437.78Z" fill="#ff0000"/><path d="M160.43 428.12L162.83 431.52L160.43 434.92L158.03 431.52Z" fill="#ff0000"/><path d="M169.13 428.89L171.53 432.29L169.13 435.69L166.73 432.29Z" fill="#ff0000"/><path d="M177.82 425.21L180.22 428.61L177.82 432.01L175.42 428.61Z" fill="#ff0000"/><path d="M186.52 428.89L188.92 432.29L186.52 435.69L184.12 432.29Z" fill="#ff0000"/><path d="M199.57 426.84L201.97 430.24L199.57 433.64L197.17 430.24Z" fill="#ff0000"/><path d="M216.96 415.34L219.36 418.74L216.96 422.14L214.56 418.74Z" fill="#ff0000"/><path d="M234.36 420.14L236.76 423.54L234.36 426.94L231.96 423.54Z" fill="#ff0000"/><path d="M251.75 415.79L254.15 419.19L251.75 422.59L249.35 419.19Z" fill="#ff0000"/><path d="M269.15 397.06L271.55 400.46L269.15 403.86L266.75 400.46Z" fill="#ff0000"/><path d="M286.54 415.23L288.94 418.63L286.54 422.03L284.14 418.63Z" fill="#ff0000"/><path d="M312.63 415.01L315.03 418.41L312.63 421.81L310.24 418.41Z" fill="#ff0000"/><path d="M347.43 409.02L349.82 412.42L347.43 415.82L345.03 412.42Z" fill="#ff0000"/></g><path d="M45.5 17.5H371.2V477.5H45.5Z" fill="none" stroke="#000" stroke-width="1"/><path d="M45.5 317.5H371.2" stroke="#000" stroke-width="1"/><path d="M51.71 17.5v4.5 M51.71 317.5v-4.5 M51.71 317.5v2.5 M51.71 477.5v-3.0 M69.11 17.5v4.5 M69.11 317.5v-4.5 M69.11 317.5v2.5 M69.11 477.5v-3.0 M86.50 17.5v8.5 M86.50 317.5v-8.5 M86.50 317.5v5.0 M86.50 477.5v-5.5 M103.89 17.5v4.5 M103.89 317.5v-4.5 M103.89 317.5v2.5 M103.89 477.5v-3.0 M121.29 17.5v4.5 M121.29 317.5v-4.5 M121.29 317.5v2.5 M121.29 477.5v-3.0 M138.69 17.5v4.5 M138.69 317.5v-4.5 M138.69 317.5v2.5 M138.69 477.5v-3.0 M156.08 17.5v8.5 M156.08 317.5v-8.5 M156.08 317.5v5.0 M156.08 477.5v-5.5 M173.47 17.5v4.5 M173.47 317.5v-4.5 M173.47 317.5v2.5 M173.47 477.5v-3.0 M190.87 17.5v4.5 M190.87 317.5v-4.5 M190.87 317.5v2.5 M190.87 477.5v-3.0 M208.26 17.5v4.5 M208.26 317.5v-4.5 M208.26 317.5v2.5 M208.26 477.5v-3.0 M225.66 17.5v8.5 M225.66 317.5v-8.5 M225.66 317.5v5.0 M225.66 477.5v-5.5 M243.06 17.5v4.5 M243.06 317.5v-4.5 M243.06 317.5v2.5 M243.06 477.5v-3.0 M260.45 17.5v4.5 M260.45 317.5v-4.5 M260.45 317.5v2.5 M260.45 477.5v-3.0 M277.85 17.5v4.5 M277.85 317.5v-4.5 M277.85 317.5v2.5 M277.85 477.5v-3.0 M295.24 17.5v8.5 M295.24 317.5v-8.5 M295.24 317.5v5.0 M295.24 477.5v-5.5 M312.63 17.5v4.5 M312.63 317.5v-4.5 M312.63 317.5v2.5 M312.63 477.5v-3.0 M330.03 17.5v4.5 M330.03 317.5v-4.5 M330.03 317.5v2.5 M330.03 477.5v-3.0 M347.43 17.5v4.5 M347.43 317.5v-4.5 M347.43 317.5v2.5 M347.43 477.5v-3.0 M364.82 17.5v8.5 M364.82 317.5v-8.5 M364.82 317.5v5.0 M364.82 477.5v-5.5 M45.5 317.50h11 M371.2 317.50h-11 M45.5 306.48h5.5 M371.2 306.48h-5.5 M45.5 295.45h5.5 M371.2 295.45h-5.5 M45.5 284.43h5.5 M371.2 284.43h-5.5 M45.5 273.40h5.5 M371.2 273.40h-5.5 M45.5 262.38h11 M371.2 262.38h-11 M45.5 251.35h5.5 M371.2 251.35h-5.5 M45.5 240.32h5.5 M371.2 240.32h-5.5 M45.5 229.30h5.5 M371.2 229.30h-5.5 M45.5 218.27h5.5 M371.2 218.27h-5.5 M45.5 207.25h11 M371.2 207.25h-11 M45.5 196.22h5.5 M371.2 196.22h-5.5 M45.5 185.20h5.5 M371.2 185.20h-5.5 M45.5 174.17h5.5 M371.2 174.17h-5.5 M45.5 163.15h5.5 M371.2 163.15h-5.5 M45.5 152.12h11 M371.2 152.12h-11 M45.5 141.10h5.5 M371.2 141.10h-5.5 M45.5 130.08h5.5 M371.2 130.08h-5.5 M45.5 119.05h5.5 M371.2 119.05h-5.5 M45.5 108.03h5.5 M371.2 108.03h-5.5 M45.5 97.00h11 M371.2 97.00h-11 M45.5 85.97h5.5 M371.2 85.97h-5.5 M45.5 74.95h5.5 M371.2 74.95h-5.5 M45.5 63.93h5.5 M371.2 63.93h-5.5 M45.5 52.90h5.5 M371.2 52.90h-5.5 M45.5 41.88h11 M371.2 41.88h-11 M45.5 30.85h5.5 M371.2 30.85h-5.5 M45.5 19.82h5.5 M371.2 19.82h-5.5 M45.5 458.40h7 M371.2 458.40h-7 M45.5 442.46h5 M371.2 442.46h-5 M45.5 428.98h5 M371.2 428.98h-5 M45.5 417.31h5 M371.2 417.31h-5 M45.5 407.01h5 M371.2 407.01h-5 M45.5 397.80h7 M371.2 397.80h-7 M45.5 389.47h5 M371.2 389.47h-5 M45.5 381.86h5 M371.2 381.86h-5 M45.5 374.86h5 M371.2 374.86h-5 M45.5 368.38h5 M371.2 368.38h-5 M45.5 362.35h5 M371.2 362.35h-5 M45.5 356.71h5 M371.2 356.71h-5 M45.5 351.41h5 M371.2 351.41h-5 M45.5 346.41h5 M371.2 346.41h-5 M45.5 341.68h5 M371.2 341.68h-5 M45.5 337.20h7 M371.2 337.20h-7 M45.5 332.93h5 M371.2 332.93h-5 M45.5 328.87h5 M371.2 328.87h-5 M45.5 324.98h5 M371.2 324.98h-5 M45.5 321.26h5 M371.2 321.26h-5 M45.5 317.69h5 M371.2 317.69h-5" stroke="#000" stroke-width="1" fill="none"/><text x="51" y="14.0" font-size="12" font-family="'Liberation Sans', sans-serif">900 GeV pp</text><text x="367" y="14.0" font-size="12" text-anchor="end" font-family="'Liberation Sans', sans-serif">Underlying Event</text><text x="41.5" y="266.57" font-size="11.5" text-anchor="end" font-family="'Liberation Sans', sans-serif">0.5</text><text x="41.5" y="211.45" font-size="11.5" text-anchor="end" font-family="'Liberation Sans', sans-serif">1</text><text x="41.5" y="156.32" font-size="11.5" text-anchor="end" font-family="'Liberation Sans', sans-serif">1.5</text><text x="41.5" y="101.20" font-size="11.5" text-anchor="end" font-family="'Liberation Sans', sans-serif">2</text><text x="41.5" y="46.08" font-size="11.5" text-anchor="end" font-family="'Liberation Sans', sans-serif">2.5</text><defs><clipPath id="c0"><rect x="0" y="0" width="45" height="316.8"/></clipPath></defs><text clip-path="url(#c0)" x="41.5" y="321.70" font-size="11.5" text-anchor="end" font-family="'Liberation Sans', sans-serif">0</text><text x="38.5" y="462.20" font-size="12" text-anchor="end" font-family="'Liberation Sans', sans-serif">0.5</text><text x="374.2" y="462.20" font-size="11.5" font-family="'Liberation Sans', sans-serif">0.5</text><text x="38.5" y="401.60" font-size="12" text-anchor="end" font-family="'Liberation Sans', sans-serif">1</text><text x="374.2" y="401.60" font-size="11.5" font-family="'Liberation Sans', sans-serif">1</text><text x="38.5" y="341.00" font-size="12" text-anchor="end" font-family="'Liberation Sans', sans-serif">2</text><text x="374.2" y="341.00" font-size="11.5" font-family="'Liberation Sans', sans-serif">2</text><text x="86.90" y="489.2" font-size="12" text-anchor="middle" font-family="'Liberation Sans', sans-serif">2</text><text x="156.48" y="489.2" font-size="12" text-anchor="middle" font-family="'Liberation Sans', sans-serif">4</text><text x="226.06" y="489.2" font-size="12" text-anchor="middle" font-family="'Liberation Sans', sans-serif">6</text><text x="295.64" y="489.2" font-size="12" text-anchor="middle" font-family="'Liberation Sans', sans-serif">8</text><text x="365.22" y="489.2" font-size="12" text-anchor="middle" font-family="'Liberation Sans', sans-serif">10</text><defs><clipPath id="ct"><rect x="0" y="0" width="371" height="60"/></clipPath></defs><g clip-path="url(#ct)" font-size="11.6" font-family="'Liberation Sans', sans-serif"><text x="41.3" y="41.7">Transverse N</text><text x="111" y="45.5" font-size="7.5">chg</text><text x="126.8" y="41.7">density vs.</text><text x="187" y="41.7">p</text><text x="192" y="48.4" font-size="7.5">T</text><text x="192" y="36.1" font-size="7.2">trk1</text><text x="204.1" y="41.7">,</text><path d="M210.2 37.5L212.7 41.7L215.3 31.5H221" fill="none" stroke="#000" stroke-width="0.9"/><text x="214.8" y="41.7" font-size="11">s</text><text x="224.4" y="41.7">= {900 GeV},</text><text x="296" y="41.7">p</text><text x="301.8" y="47.8" font-size="7.5">T</text><text x="311" y="41.7">&gt; {100 MeV}</text></g><rect x="73.60" y="59.10" width="5.6" height="5.6" fill="#000"/><path d="M64 75.0H89" stroke="#ff8c8c" stroke-width="1.0" fill="none"/><circle cx="76.40" cy="75.00" r="2.2" fill="none" stroke="#ff8c8c" stroke-width="1.1"/><path d="M64 88.0H89" stroke="#3c9a1e" stroke-width="1.1" stroke-dasharray="2.4 2.2" fill="none"/><rect x="73.50" y="85.10" width="5.8" height="5.8" fill="none" stroke="#3c9a1e" stroke-width="1.1"/><path d="M64 101.1H89" stroke="#a0001e" stroke-width="1.1" fill="none"/><path d="M76.40 98.40L79.10 103.70H73.70Z" fill="none" stroke="#a0001e" stroke-width="1.0" stroke-linejoin="miter"/><path d="M64 114.2H89" stroke="#0000ee" stroke-width="1.1" fill="none"/><path d="M76.40 111.20L79.40 116.90H73.40Z" fill="#0000ee"/><path d="M64 127.2H89" stroke="#ff0000" stroke-width="0.9" stroke-dasharray="2 1.2" fill="none"/><path d="M76.40 123.80L78.80 127.20L76.40 130.60L74.00 127.20Z" fill="#ff0000"/><g font-size="9.4" font-family="'Liberation Sans', sans-serif"><text x="94" y="64.1">ATLAS</text><text x="94" y="77.2">Epos 1.99.crmc.1.6.0 lhc</text><text x="94" y="90.2">Herwig 7.2.1 default</text><text x="94" y="103.3">Pythia 6.428 370</text><text x="94" y="116.4">Pythia 8.315 default</text><text x="94" y="129.4">Sherpa 2.2.9 default</text></g><g transform="translate(16.1,101) rotate(-90)" font-size="11" font-family="'Liberation Sans', sans-serif"><text x="-0.2" y="0">#</text><path d="M10.3 -9.3L6.6 -3.9L10.3 1.5" fill="none" stroke="#000" stroke-width="0.9"/><text x="10.4" y="0">d</text><text x="16.6" y="-6.0" font-size="7.5">2</text><text x="24.4" y="0">N</text><text x="33.1" y="2.6" font-size="7">chg</text><text x="42.0" y="0">/</text><text x="47.0" y="0">dηdφ#</text><path d="M80.4 -9.3L84.1 -3.9L80.4 1.5" fill="none" stroke="#000" stroke-width="0.9"/></g><text transform="translate(17.9,396.4) rotate(-90)" text-anchor="middle" font-size="9" font-family="'Liberation Sans', sans-serif">Ratio to ATLAS</text><text transform="translate(380.0,127.3) rotate(-90)" font-size="9.45" fill="#737373" font-family="'Liberation Sans', sans-serif">Rivet 4.1.0, ≥ 600k events</text><text transform="translate(380.4,313.8) rotate(-90)" font-size="9.4" fill="#737373" font-family="'Liberation Sans', sans-serif">mcplots.cern.ch [arXiv:2401.10621]</text><text x="207.8" y="301.6" text-anchor="middle" font-size="8" fill="#999" font-family="'Liberation Sans', sans-serif">(ATLAS_2010_I879407)</text><text x="243" y="501" font-size="12.5" font-family="'Liberation Sans', sans-serif">p</text><text x="250.2" y="507.6" font-size="8.5" font-family="'Liberation Sans', sans-serif">T</text><text x="373.5" y="501" text-anchor="end" font-size="12.5" font-family="'Liberation Sans', sans-serif">(leading track) [GeV]</text>
</svg></body></html>
